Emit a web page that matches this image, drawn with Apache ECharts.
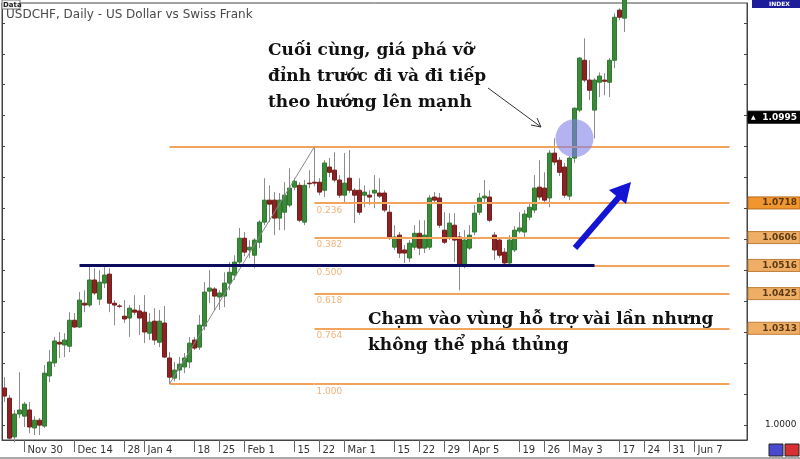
<!DOCTYPE html>
<html><head><meta charset="utf-8">
<script src="https://cdn.jsdelivr.net/npm/echarts@6/dist/echarts.min.js"></script>
<style>html,body{margin:0;padding:0;background:#fff}#c{width:800px;height:459px}</style>
</head><body><div id="c"></div>
<script>
// ---- data ----
const startDate = '2009-11-24';
const skippedDays = ['2010-01-01'];
const categoryCount = 149;
const categories = [];
(function(){ let d = new Date(startDate + 'T00:00:00Z');
  while (categories.length < categoryCount) { const wd = d.getUTCDay(); const s = d.toISOString().slice(0,10);
    if (wd !== 0 && wd !== 6 && skippedDays.indexOf(s) < 0) categories.push(s);
    d.setUTCDate(d.getUTCDate() + 1); } })();

const tickDates = ['2009-11-30','2009-12-14','2009-12-28','2010-01-04','2010-01-18','2010-01-25','2010-02-01','2010-02-15','2010-02-22','2010-03-01','2010-03-15','2010-03-22','2010-03-29','2010-04-05','2010-04-19','2010-04-26','2010-05-03','2010-05-17','2010-05-24','2010-05-31','2010-06-07'];
const tickTexts = ['Nov 30','Dec 14','28','Jan 4','18','25','Feb 1','15','22','Mar 1','15','22','29','Apr 5','19','26','May 3','17','24','31','Jun 7'];

// [open, close, low, high]
const ohlc = [
[1.0120,1.0094,1.0075,1.0155],[1.0087,0.9958,0.9952,1.0097],[0.9962,1.0036,0.9945,1.0049],[1.0036,1.0049,1.0023,1.0171],
[1.0029,1.0068,0.9994,1.0075],[1.0049,0.9994,0.9974,1.0075],[0.9991,1.0016,0.9968,1.0029],[1.0016,1.0000,0.9968,1.0023],
[0.9997,1.0168,0.9991,1.0194],[1.0159,1.0204,1.0139,1.0243],[1.0201,1.0272,1.0188,1.0285],[1.0268,1.0262,1.0217,1.0301],
[1.0259,1.0275,1.0220,1.0297],[1.0255,1.0339,1.0236,1.0365],[1.0339,1.0317,1.0314,1.0362],[1.0317,1.0404,1.0314,1.0430],
[1.0394,1.0388,1.0365,1.0436],[1.0388,1.0469,1.0381,1.0511],[1.0469,1.0427,1.0420,1.0507],[1.0407,1.0462,1.0388,1.0501],
[1.0459,1.0485,1.0443,1.0514],[1.0488,1.0394,1.0365,1.0507],[1.0394,1.0388,1.0323,1.0404],[1.0385,1.0384,1.0378,1.0391],
[1.0352,1.0343,1.0330,1.0404],[1.0346,1.0378,1.0285,1.0388],[1.0372,1.0365,1.0356,1.0420],[1.0369,1.0346,1.0291,1.0388],
[1.0365,1.0301,1.0265,1.0420],[1.0297,1.0333,1.0275,1.0362],[1.0336,1.0275,1.0259,1.0378],[1.0268,1.0336,1.0252,1.0372],
[1.0330,1.0220,1.0217,1.0385],[1.0217,1.0155,1.0133,1.0236],[1.0152,1.0178,1.0142,1.0204],[1.0178,1.0197,1.0146,1.0220],
[1.0188,1.0217,1.0168,1.0233],[1.0204,1.0265,1.0184,1.0285],[1.0275,1.0249,1.0243,1.0285],[1.0252,1.0323,1.0243,1.0356],
[1.0320,1.0430,1.0307,1.0462],[1.0433,1.0443,1.0394,1.0501],[1.0440,1.0417,1.0372,1.0446],[1.0414,1.0427,1.0372,1.0436],
[1.0417,1.0459,1.0381,1.0494],[1.0459,1.0494,1.0436,1.0527],[1.0485,1.0527,1.0469,1.0549],[1.0527,1.0604,1.0514,1.0637],
[1.0604,1.0559,1.0546,1.0624],[1.0566,1.0575,1.0540,1.0598],[1.0549,1.0598,1.0507,1.0604],[1.0591,1.0656,1.0572,1.0662],
[1.0656,1.0727,1.0646,1.0798],[1.0727,1.0714,1.0656,1.0775],[1.0727,1.0669,1.0614,1.0753],[1.0669,1.0727,1.0630,1.0750],
[1.0688,1.0743,1.0630,1.0785],[1.0711,1.0766,1.0704,1.0830],[1.0769,1.0788,1.0759,1.0798],[1.0775,1.0662,1.0656,1.0785],
[1.0656,1.0775,1.0646,1.0792],[1.0782,1.0780,1.0766,1.0824],[1.0785,1.0782,1.0772,1.0900],[1.0785,1.0753,1.0743,1.0798],
[1.0759,1.0847,1.0737,1.0856],[1.0834,1.0817,1.0801,1.0863],[1.0824,1.0792,1.0785,1.0882],[1.0792,1.0743,1.0734,1.0808],
[1.0743,1.0782,1.0717,1.0879],[1.0798,1.0759,1.0750,1.0889],[1.0759,1.0743,1.0653,1.0766],[1.0759,1.0688,1.0679,1.0798],
[1.0743,1.0753,1.0704,1.0775],[1.0743,1.0737,1.0711,1.0759],[1.0750,1.0759,1.0701,1.0808],[1.0750,1.0740,1.0734,1.0798],
[1.0750,1.0695,1.0688,1.0759],[1.0688,1.0608,1.0598,1.0711],[1.0575,1.0608,1.0566,1.0646],[1.0614,1.0556,1.0540,1.0624],
[1.0566,1.0556,1.0524,1.0582],[1.0540,1.0588,1.0527,1.0598],[1.0575,1.0620,1.0566,1.0646],[1.0620,1.0572,1.0549,1.0662],
[1.0572,1.0614,1.0556,1.0662],[1.0575,1.0734,1.0566,1.0743],[1.0737,1.0727,1.0717,1.0753],[1.0734,1.0646,1.0637,1.0750],
[1.0630,1.0591,1.0585,1.0688],[1.0608,1.0653,1.0598,1.0685],[1.0646,1.0598,1.0527,1.0685],[1.0608,1.0517,1.0436,1.0624],
[1.0517,1.0598,1.0507,1.0630],[1.0572,1.0614,1.0566,1.0646],[1.0624,1.0685,1.0614,1.0711],[1.0688,1.0734,1.0679,1.0750],
[1.0734,1.0740,1.0717,1.0792],[1.0737,1.0662,1.0656,1.0759],[1.0614,1.0566,1.0533,1.0624],[1.0598,1.0549,1.0540,1.0608],
[1.0559,1.0524,1.0517,1.0572],[1.0524,1.0598,1.0514,1.0614],[1.0566,1.0630,1.0559,1.0643],[1.0627,1.0637,1.0620,1.0688],
[1.0624,1.0682,1.0608,1.0695],[1.0672,1.0704,1.0662,1.0717],[1.0695,1.0766,1.0685,1.0808],[1.0769,1.0737,1.0727,1.0856],
[1.0766,1.0727,1.0714,1.0817],[1.0734,1.0879,1.0704,1.0889],[1.0879,1.0850,1.0840,1.0927],[1.0856,1.0817,1.0805,1.0866],
[1.0834,1.0743,1.0734,1.0847],[1.0740,1.0863,1.0727,1.0869],[1.0863,1.1024,1.0847,1.1027],[1.1018,1.1186,1.1011,1.1189],
[1.1179,1.1115,1.1108,1.1250],[1.1115,1.1082,1.1050,1.1179],[1.1018,1.1115,1.0927,1.1121],[1.1108,1.1128,1.1060,1.1140],
[1.1115,1.1111,1.1066,1.1137],[1.1108,1.1179,1.1060,1.1186],[1.1179,1.1318,1.1153,1.1331],[1.1341,1.1318,1.1308,1.1347],
[1.1315,1.1389,1.1270,1.1405]
];

const fibLevels = [1.0900, 1.0718, 1.0606, 1.0516, 1.0425, 1.0313, 1.0133];
const fibRatios = ['', '0.236', '0.382', '0.500', '0.618', '0.764', '1.000'];
const fibLowIndex = 33, fibHighIndex = 62, fibEndIndex = 145;
const supportLevel = 1.0516, supportStart = 15, supportEnd = 118;
const bidPrice = 1.0995;
const breakoutPoint = [114, 1.0927];
const yTicks = [1.00,1.01,1.02,1.03,1.04,1.05,1.06,1.07,1.08,1.09,1.10,1.11,1.12,1.13];
const yLabelValues = [1.0000];
const yMin = 0.9952, yMax = 1.1364;

// ---- chart ----
const chart = echarts.init(document.getElementById('c'));
const bodies = ohlc.map(d => [d[0], d[1], Math.min(d[0], d[1]), Math.max(d[0], d[1])]);
const showTick = (i, v) => tickDates.indexOf(v) >= 0;

const fibLines = [];
fibLevels.forEach((v, k) => {
  const orange = { color: '#F3A45C', width: 2, type: 'solid' };
  if (k === 0 || k === fibLevels.length - 1) {
    fibLines.push([{ coord: [fibLowIndex, v], lineStyle: orange, label: { show: false } }, { coord: [fibHighIndex, v] }]);
  }
  fibLines.push([{ coord: [fibHighIndex, v], lineStyle: orange,
    label: { show: !!fibRatios[k], formatter: fibRatios[k], position: 'insideStartBottom', distance: [2, 3],
      color: '#F2B27A', fontSize: 9, fontFamily: 'DejaVu Sans' } }, { coord: [fibEndIndex, v] }]);
});
fibLines.push([{ coord: [fibLowIndex, fibLevels[6]], lineStyle: { color: '#8a8a8a', width: 1, type: 'solid' }, label: { show: false } },
  { coord: [fibHighIndex, fibLevels[0]] }]);

chart.setOption({
  animation: false,
  backgroundColor: '#fff',
  grid: { left: 2, right: 53, top: 3, bottom: 19, show: true, borderColor: '#444', borderWidth: 1 },
  xAxis: {
    type: 'category', data: categories, boundaryGap: true,
    axisLine: { lineStyle: { color: '#444' } },
    axisTick: { show: true, alignWithLabel: true, interval: showTick, length: 12, lineStyle: { color: '#666' } },
    axisLabel: { interval: showTick, formatter: v => tickTexts[tickDates.indexOf(v)], align: 'left',
      padding: [0, 0, 0, 3], margin: 5, fontSize: 10, color: '#333', fontFamily: 'DejaVu Sans' },
    splitLine: { show: false }
  },
  yAxis: [
    { type: 'value', position: 'right', min: yMin, max: yMax, scale: true,
      axisLine: { show: true, lineStyle: { color: '#444' } },
      axisTick: { show: true, inside: true, length: 3, customValues: yTicks, lineStyle: { color: '#444' } },
      axisLabel: { customValues: yLabelValues, formatter: v => v.toFixed(4), fontSize: 9, color: '#222', margin: 18, fontFamily: 'DejaVu Sans' },
      splitLine: { show: false } },
    { type: 'value', position: 'left', min: yMin, max: yMax, scale: true,
      axisLine: { show: true, lineStyle: { color: '#444' } },
      axisTick: { show: true, inside: true, length: 3, customValues: yTicks, lineStyle: { color: '#444' } },
      axisLabel: { show: false }, splitLine: { show: false } }
  ],
  series: [
    { type: 'line', data: [], z: 1, silent: true,
      markLine: { silent: true, symbol: ['none', 'none'], animation: false, data: fibLines } },
    { type: 'candlestick', name: 'wick', data: ohlc, barWidth: 1, clip: true, z: 2,
      itemStyle: { color: '#8c8c8c', color0: '#8c8c8c', borderColor: '#8c8c8c', borderColor0: '#8c8c8c', borderWidth: 1 } },
    { type: 'candlestick', name: 'body', data: bodies, barWidth: 4, clip: true, z: 3,
      itemStyle: { color: '#3a8a3a', color0: '#8a2424', borderColor: '#2f7a2f', borderColor0: '#7a1c1c', borderWidth: 1 } },
    { type: 'line', data: [], z: 5, silent: true,
      markLine: { silent: true, symbol: ['none', 'none'], animation: false,
        data: [[{ coord: [supportStart, supportLevel], lineStyle: { color: '#0c0c5e', width: 3, type: 'solid' }, label: { show: false } },
                { coord: [supportEnd, supportLevel] }]] },
      markPoint: { silent: true, symbol: 'circle', symbolSize: 38, animation: false,
        itemStyle: { color: 'rgba(128,128,232,0.6)' }, label: { show: false },
        data: [{ coord: breakoutPoint }] } }
  ]
});

// ---- annotations ----
const py = v => chart.convertToPixel({ yAxisIndex: 0 }, v);
const g = [];
function priceBox(v, txt, fill, stroke, color) {
  const y = py(v);
  g.push({ type: 'rect', z: 100, shape: { x: 748, y: y - 6, width: 52, height: 12 }, style: { fill: fill, stroke: stroke, lineWidth: 1 } });
  g.push({ type: 'text', z: 101, style: { text: txt, x: 797, y: y, align: 'right', verticalAlign: 'middle', font: 'bold 9px "DejaVu Sans"', fill: color } });
}
priceBox(bidPrice, '1.0995', '#000', '#000', '#fff');
g.push({ type: 'text', z: 102, style: { text: '▲', x: 751, y: py(bidPrice), verticalAlign: 'middle', font: '6px "DejaVu Sans"', fill: '#fff' } });
priceBox(fibLevels[1], '1.0718', '#F0962E', '#B86A1E', '#5a360e');
[2, 3, 4, 5].forEach(k => priceBox(fibLevels[k], fibLevels[k].toFixed(4), '#EFAE66', '#C07E38', '#5a3a12'));

g.push(
  { type: 'rect', z: 100, shape: { x: 752, y: 0, width: 48, height: 8 }, style: { fill: '#1d1d9a' } },
  { type: 'text', z: 101, style: { text: 'INDEX', x: 790, y: 4, align: 'right', verticalAlign: 'middle', font: 'bold 6px "DejaVu Sans"', fill: '#fff' } },
  { type: 'rect', z: 100, shape: { x: 2, y: 0, width: 18, height: 9 }, style: { fill: '#f4f4f4', stroke: '#777', lineWidth: 1 } },
  { type: 'text', z: 101, style: { text: 'Data', x: 3, y: 5, verticalAlign: 'middle', font: 'bold 7px "DejaVu Sans"', fill: '#222' } },
  { type: 'text', z: 101, style: { text: 'USDCHF, Daily - US Dollar vs Swiss Frank', x: 6, y: 15, verticalAlign: 'middle', font: '12px "DejaVu Sans"', fill: '#4a4a4a' } },
  { type: 'line', z: 100, shape: { x1: 0, y1: 458, x2: 800, y2: 458 }, style: { stroke: '#555', lineWidth: 1 } },
  { type: 'rect', z: 100, shape: { x: 769, y: 444, width: 14, height: 12 }, style: { fill: '#4a4ad0', stroke: '#222' } },
  { type: 'rect', z: 100, shape: { x: 785, y: 444, width: 14, height: 12 }, style: { fill: '#d83030', stroke: '#222' } },
  { type: 'text', z: 110, style: { text: 'Cuối cùng, giá phá vỡ\nđỉnh trước đi và đi tiếp\ntheo hướng lên mạnh', x: 268, y: 38, lineHeight: 26,
      font: 'bold 17px "DejaVu Serif"', fill: '#111', verticalAlign: 'top' } },
  { type: 'text', z: 110, style: { text: 'Chạm vào vùng hỗ trợ vài lần nhưng\nkhông thể phá thủng', x: 368, y: 307, lineHeight: 26,
      font: 'bold 17px "DejaVu Serif"', fill: '#111', verticalAlign: 'top' } },
  { type: 'line', z: 110, shape: { x1: 488, y1: 88, x2: 541, y2: 127 }, style: { stroke: '#333', lineWidth: 1 } },
  { type: 'polyline', z: 110, shape: { points: [[537, 118], [541, 127], [531, 125]] }, style: { stroke: '#333', lineWidth: 1, fill: null } },
  { type: 'line', z: 110, shape: { x1: 575, y1: 248, x2: 619, y2: 197 }, style: { stroke: '#1414d4', lineWidth: 6 } },
  { type: 'polygon', z: 110, shape: { points: [[631, 182], [626, 204], [609, 190]] }, style: { fill: '#1414d4' } }
);
chart.setOption({ graphic: g });
</script></body></html>
